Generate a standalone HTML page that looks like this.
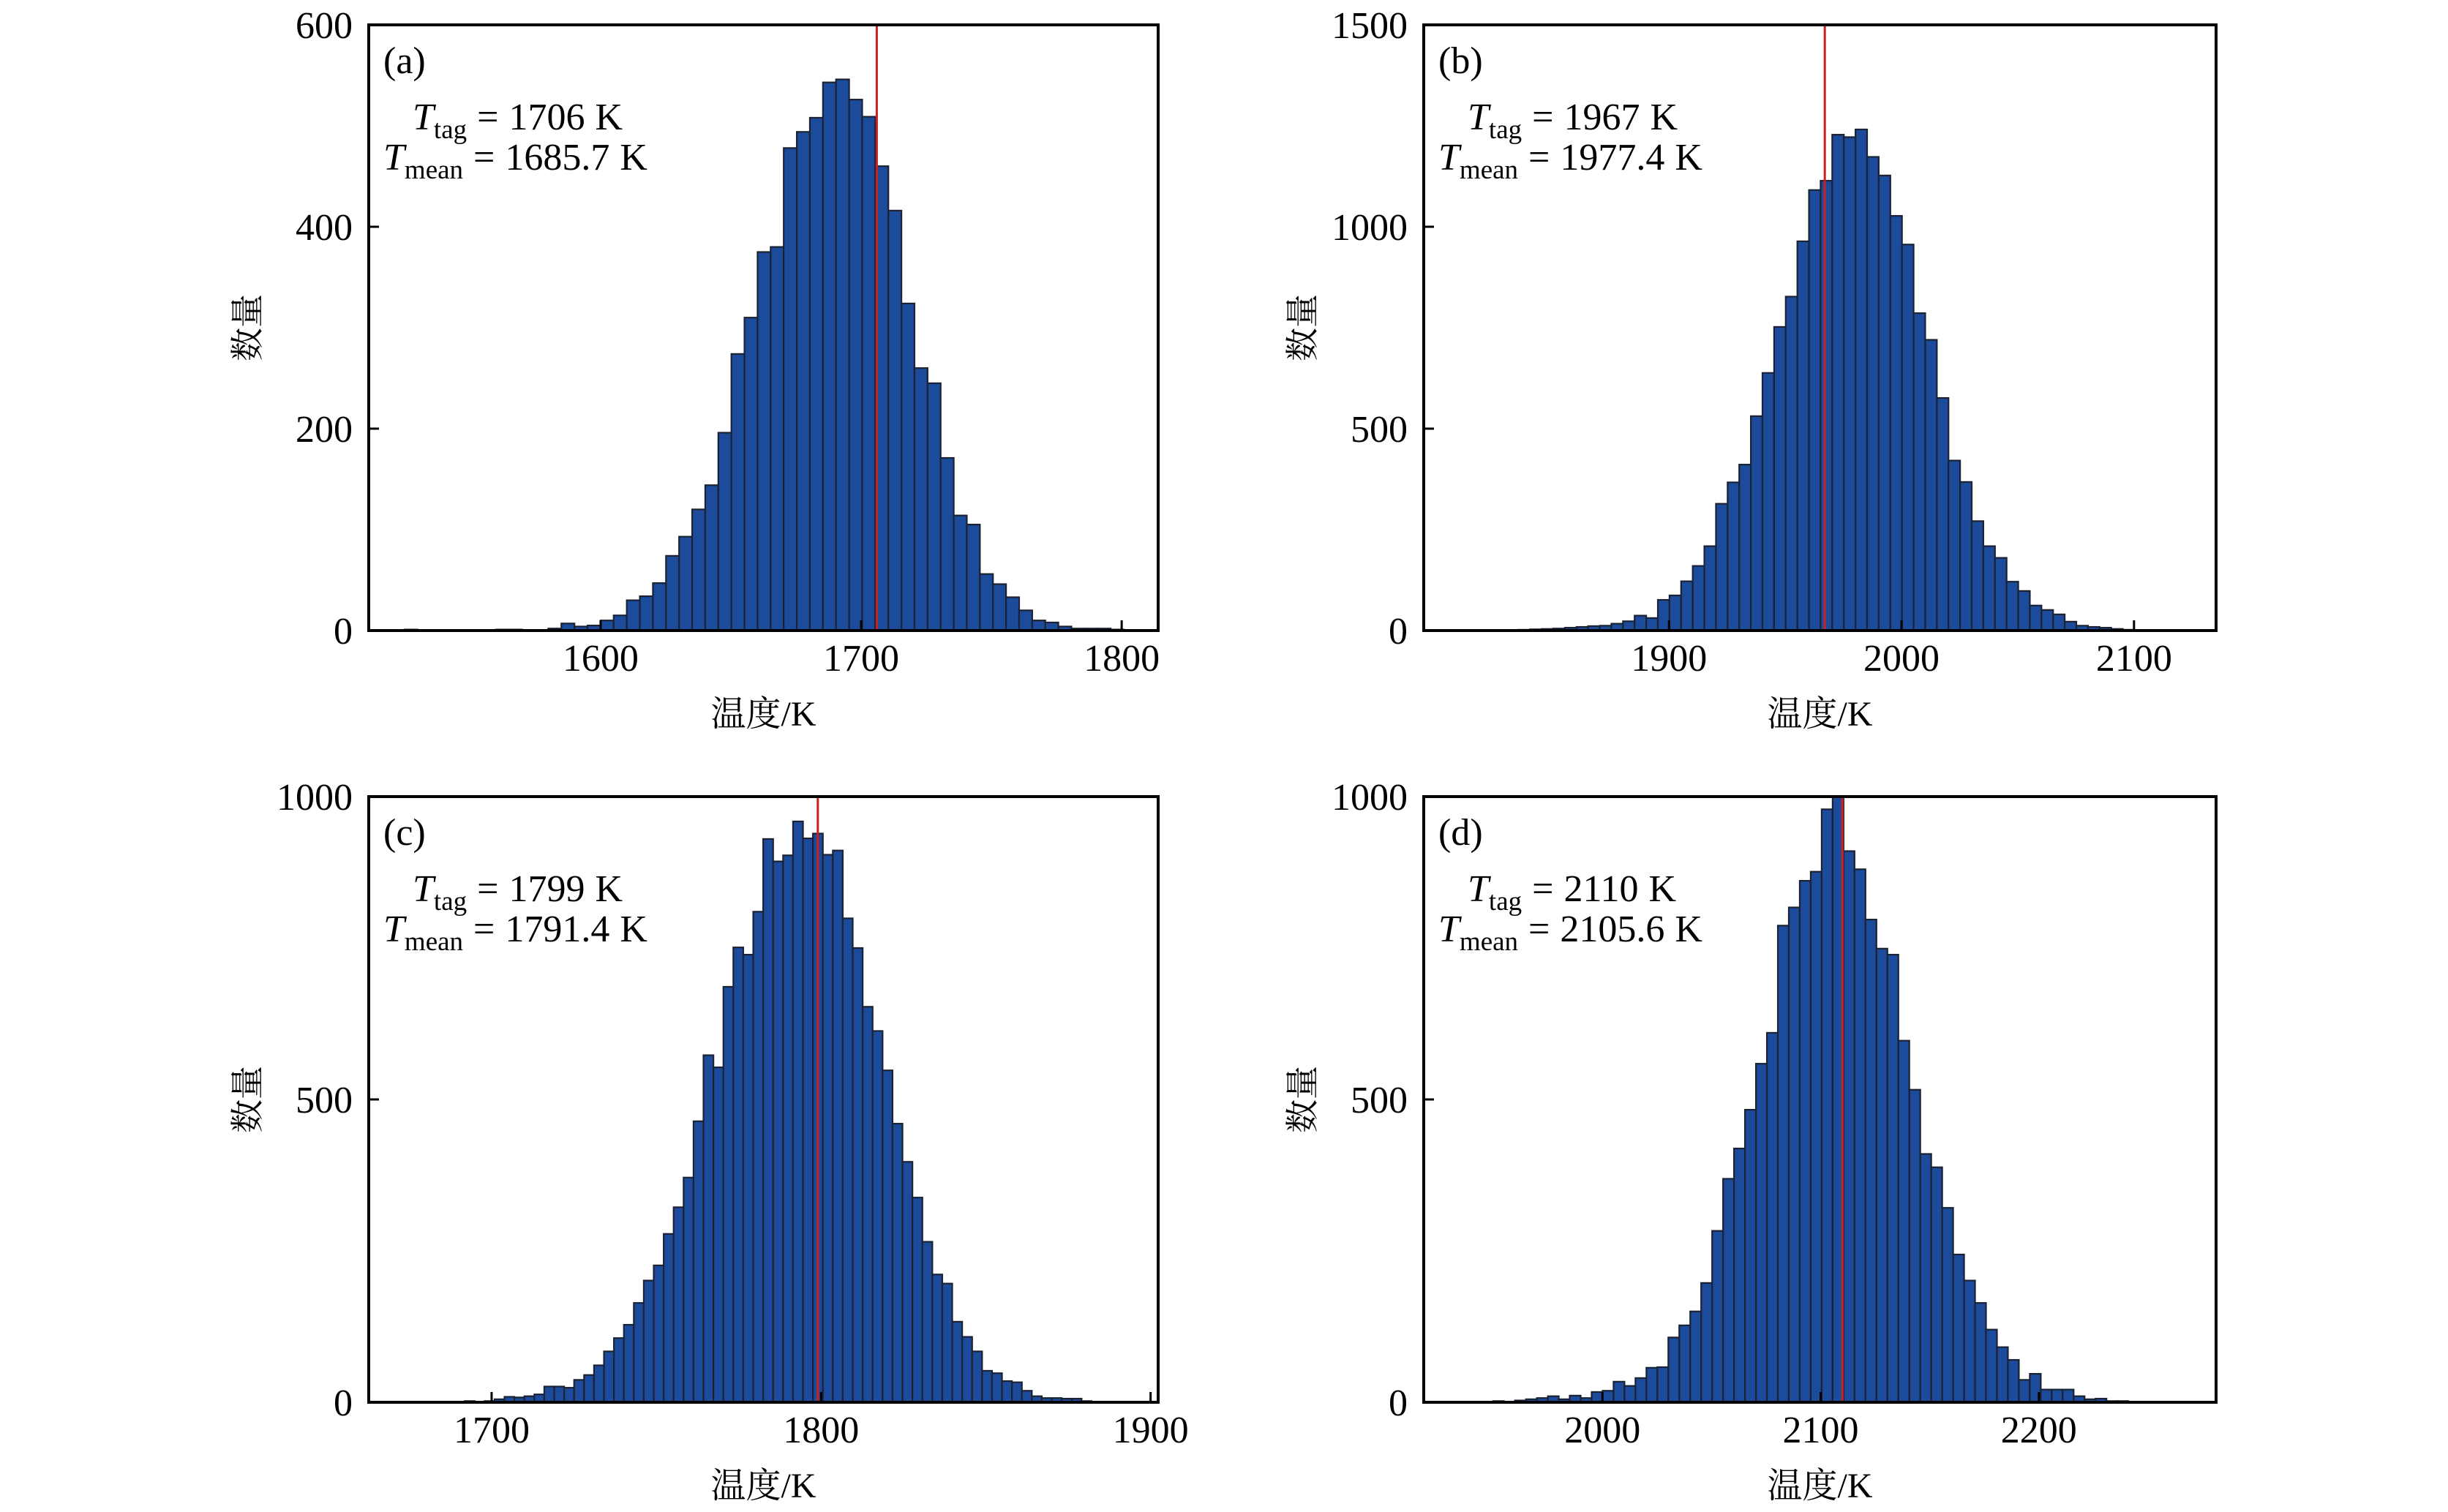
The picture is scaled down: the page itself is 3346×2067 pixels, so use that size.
<!DOCTYPE html>
<html><head><meta charset="utf-8">
<style>
html,body{margin:0;padding:0;background:#fff;}
svg{display:block;}
text{font-family:"Liberation Serif","Noto Serif CJK SC",serif;fill:#000;}
.cjk{font-family:"Liberation Serif","Noto Serif CJK SC","Noto Sans CJK SC",serif;}
</style></head>
<body>
<svg id="fig" width="3346" height="2067" viewBox="0 0 3346 2067" xmlns="http://www.w3.org/2000/svg"></svg>
<script>
// ---- data (per panel) ----
const countsA = [1,0,0,0,0,0,0,1,1,0,0,2,7,4,5,10,15,30,34,47,74,93,120,144,196,274,310,375,380,478,494,508,543,546,526,509,460,416,324,260,245,171,114,105,56,46,33,20,10,8,4,2,2,2,1];
const countsB = [1,1,1,1,1,2,3,4,5,7,9,11,12,17,23,37,31,76,87,122,160,209,314,367,411,531,638,752,827,964,1091,1114,1228,1222,1241,1173,1127,1027,956,786,720,576,421,368,271,209,180,121,98,62,51,40,22,12,9,7,4,2,1,1,1,1,1];
const countsC = [1,0,1,1,1,1,2,1,2,5,9,8,10,13,26,26,24,37,45,61,84,106,128,164,201,226,278,322,371,464,573,553,686,751,739,810,930,893,903,959,931,939,904,911,799,750,653,613,548,460,397,338,265,211,196,133,108,84,52,48,35,33,19,10,7,7,6,6,2,1,1,1];
const countsD = [1,0,0,2,0,3,5,7,10,5,11,7,17,19,34,27,40,57,58,107,127,150,197,283,369,419,483,559,610,787,817,861,876,979,1010,910,880,797,749,739,597,516,410,388,321,244,201,164,120,91,70,37,47,21,21,21,10,5,6,2,2,1,1,1,1,1];
const binStartA = 1524.7, binWidthA = 5.02;
const binStartB = 1810.2, binWidthB = 5.0;
const binStartC = 1673.7, binWidthC = 3.02;
const binStartD = 1934.8, binWidthD = 5.02;
const xDomainA = [1511, 1814], xDomainB = [1794.5, 2135.3], xDomainC = [1662.7, 1902.3], xDomainD = [1918.1, 2281.2];
const yMaxA = 600, yMaxB = 1500, yMaxC = 1000, yMaxD = 1000;
const xTicksA = [1600,1700,1800], xTicksB = [1900,2000,2100], xTicksC = [1700,1800,1900], xTicksD = [2000,2100,2200];
const yTicksA = [0,200,400,600], yTicksB = [0,500,1000,1500], yTicksC = [0,500,1000], yTicksD = [0,500,1000];
const tTags = [1706, 1967, 1799, 2110];
const tMeans = ["1685.7", "1977.4", "1791.4", "2105.6"];
const panelLabels = ["(a)","(b)","(c)","(d)"];

const NS = "http://www.w3.org/2000/svg";
const svg = document.getElementById('fig');
function mk(tag, attrs, parent){
  const e = document.createElementNS(NS, tag);
  for (const k in attrs) e.setAttribute(k, attrs[k]);
  (parent||svg).appendChild(e);
  return e;
}
const boxes = [
  {l:504, r:1583, t:34, b:862},
  {l:1946, r:3029, t:34, b:862},
  {l:504, r:1583, t:1089, b:1917},
  {l:1946, r:3029, t:1089, b:1917}
];
const panels = [
  {counts:countsA, start:binStartA, w:binWidthA, xd:xDomainA, ymax:yMaxA, xt:xTicksA, yt:yTicksA},
  {counts:countsB, start:binStartB, w:binWidthB, xd:xDomainB, ymax:yMaxB, xt:xTicksB, yt:yTicksB},
  {counts:countsC, start:binStartC, w:binWidthC, xd:xDomainC, ymax:yMaxC, xt:xTicksC, yt:yTicksC},
  {counts:countsD, start:binStartD, w:binWidthD, xd:xDomainD, ymax:yMaxD, xt:xTicksD, yt:yTicksD}
];
const ids = ['a','b','c','d'];
panels.forEach((p, i) => {
  const bx = boxes[i];
  const g = mk('g', {});
  
  
  const xs = v => bx.l + (v - p.xd[0]) / (p.xd[1] - p.xd[0]) * (bx.r - bx.l);
  const ys = v => bx.b - Math.min(v, p.ymax) / p.ymax * (bx.b - bx.t);
  const clip = mk('clipPath', {id:'clip'+i}, g);
  mk('rect', {x:bx.l, y:bx.t, width:bx.r-bx.l, height:bx.b-bx.t}, clip);
  const bars = mk('g', {'clip-path':'url(#clip'+i+')'}, g);
  p.counts.forEach((c, k) => {
    const x0 = xs(p.start + k * p.w), x1 = xs(p.start + (k + 1) * p.w);
    const y = ys(c);
    const r = mk('rect', {x:x0, y:y, width:x1-x0, height:bx.b-y, fill:'#1c4b9c', stroke:'#1a2233', 'stroke-width':2.2}, bars);
    
    
  });
  const tl = mk('line', {x1:xs(tTags[i]), x2:xs(tTags[i]), y1:bx.t, y2:bx.b, stroke:'#cc2020', 'stroke-width':3}, g);
  
  
  const fr = mk('rect', {x:bx.l, y:bx.t, width:bx.r-bx.l, height:bx.b-bx.t, fill:'none', stroke:'#000', 'stroke-width':4}, g);
  
  
  p.xt.forEach(v => {
    const x = xs(v);
    mk('line', {x1:x, x2:x, y1:bx.b, y2:bx.b-14, stroke:'#000', 'stroke-width':3}, g);
    const t = mk('text', {x:x, y:bx.b+55, 'text-anchor':'middle', 'font-size':52}, g);
    t.textContent = v;
    
    
  });
  p.yt.forEach(v => {
    const y = ys(v);
    mk('line', {x1:bx.l, x2:bx.l+14, y1:y, y2:y, stroke:'#000', 'stroke-width':3}, g);
    const t = mk('text', {x:bx.l-22, y:y+18, 'text-anchor':'end', 'font-size':52}, g);
    t.textContent = v;
    
    
  });
  const xt = mk('text', {x:(bx.l+bx.r)/2, y:bx.b+130, 'text-anchor':'middle', 'font-size':48, class:'cjk'}, g);
  xt.textContent = '温度/K';
  
  
  const cy = (bx.t+bx.b)/2, cx = bx.l - 166;
  const yt = mk('text', {x:cx, y:cy+16, 'text-anchor':'middle', 'font-size':46, class:'cjk', transform:'rotate(-90 '+cx+' '+cy+')'}, g);
  yt.textContent = '数量';
  
  
  const pl = mk('text', {x:bx.l+20, y:bx.t+66, 'font-size':52}, g);
  pl.textContent = panelLabels[i];
  
  
  const a1 = mk('text', {x:bx.l+60, y:bx.t+143, 'font-size':52}, g);
  a1.innerHTML = '<tspan font-style="italic">T</tspan><tspan font-size="37" dy="12">tag</tspan><tspan dy="-12" dx="14">=</tspan><tspan dx="14">'+tTags[i]+'</tspan><tspan dx="14">K</tspan>';
  
  
  const a2 = mk('text', {x:bx.l+20, y:bx.t+198, 'font-size':52}, g);
  a2.innerHTML = '<tspan font-style="italic">T</tspan><tspan font-size="37" dy="12">mean</tspan><tspan dy="-12" dx="14">=</tspan><tspan dx="14">'+tMeans[i]+'</tspan><tspan dx="14">K</tspan>';
  
  
});
</script>
</body></html>
